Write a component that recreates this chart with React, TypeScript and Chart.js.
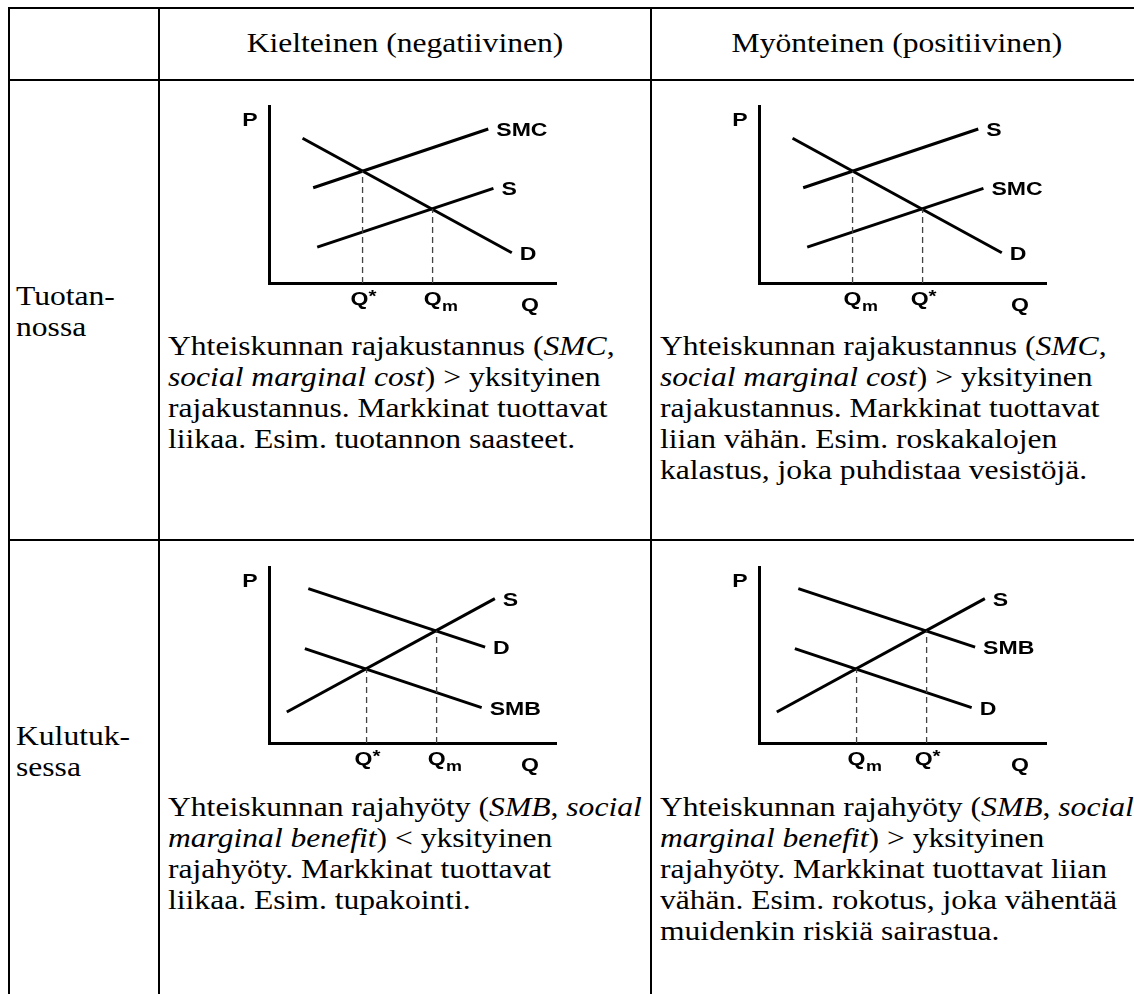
import React, { useEffect, useRef } from "react";
import { Chart, registerables } from "chart.js";

Chart.register(...registerables);

// ---------------- data ----------------
const columnHeaders = ["Kielteinen (negatiivinen)", "Myönteinen (positiivinen)"];
const rowHeaders = [["Tuotan-", "nossa"], ["Kulutuk-", "sessa"]];

// production diagrams (quantity / price on a 0..10 scale)
const prodUpperQ = [1.54, 7.64];
const prodUpperP = [5.38, 8.7];
const prodLowerQ = [1.68, 7.82];
const prodLowerP = [2.03, 5.35];
const prodDemandQ = [1.17, 8.46];
const prodDemandP = [8.18, 1.71];
const prodCrossQ = [3.26, 5.7];
const prodCrossP = [6.32, 4.18];

// consumption diagrams
const consUpperQ = [1.37, 7.53];
const consUpperP = [8.77, 5.45];
const consLowerQ = [1.25, 7.41];
const consLowerP = [5.36, 2.01];
const consSupplyQ = [0.62, 7.87];
const consSupplyP = [1.76, 8.2];
const consCrossQ = [3.4, 5.84];
const consCrossP = [4.21, 6.38];

const axisTitleQ = 9.09;
const negativeTicks = ["Q*", "Qm"];
const positiveTicks = ["Qm", "Q*"];

const chart1Labels = ["SMC", "S", "D"];
const chart2Labels = ["S", "SMC", "D"];
const chart3Labels = ["D", "SMB", "S"];
const chart4Labels = ["SMB", "D", "S"];

const texts = {
  prodNeg: [
    ["Yhteiskunnan rajakustannus (", ["SMC"], ","],
    [["social marginal cost"], ") > yksityinen"],
    ["rajakustannus. Markkinat tuottavat"],
    ["liikaa. Esim. tuotannon saasteet."],
  ],
  prodPos: [
    ["Yhteiskunnan rajakustannus (", ["SMC"], ","],
    [["social marginal cost"], ") > yksityinen"],
    ["rajakustannus. Markkinat tuottavat"],
    ["liian vähän. Esim. roskakalojen"],
    ["kalastus, joka puhdistaa vesistöjä."],
  ],
  consNeg: [
    ["Yhteiskunnan rajahyöty (", ["SMB"], ", ", ["social"]],
    [["marginal benefit"], ") < yksityinen"],
    ["rajahyöty. Markkinat tuottavat"],
    ["liikaa. Esim. tupakointi."],
  ],
  consPos: [
    ["Yhteiskunnan rajahyöty (", ["SMB"], ", ", ["social"]],
    [["marginal benefit"], ") > yksityinen"],
    ["rajahyöty. Markkinat tuottavat liian"],
    ["vähän. Esim. rokotus, joka vähentää"],
    ["muidenkin riskiä sairastua."],
  ],
};

// ---------------- styling ----------------
const SERIF = '"Liberation Serif", "Times New Roman", serif';
const TEXT_SIZE = 27;
const TEXT_SX = 1.17;
const LINE_H = 31;
const LABEL_SX = 1.28;
const LABEL_SIZE = 18;
const LABEL_FONT = (s: number) => `bold ${s}px "Liberation Sans", Arial, sans-serif`;

const annotate = {
  id: "annotate",
  afterDatasetsDraw(chart: any, _args: any, opts: any) {
    const { ctx, chartArea, scales } = chart;
    const put = (text: string, x: number, y: number, size: number, align: CanvasTextAlign) => {
      ctx.save();
      ctx.font = LABEL_FONT(size);
      ctx.fillStyle = "#000";
      ctx.textBaseline = "middle";
      ctx.translate(x, y);
      ctx.scale(LABEL_SX, 1);
      ctx.textAlign = align;
      ctx.fillText(text, 0, 0);
      ctx.restore();
    };
    const width = (text: string, size: number) => {
      ctx.save();
      ctx.font = LABEL_FONT(size);
      const w = ctx.measureText(text).width * LABEL_SX;
      ctx.restore();
      return w;
    };
    chart.data.datasets.forEach((ds: any, i: number) => {
      if (!ds.curveLabel) return;
      const meta = chart.getDatasetMeta(i);
      const pt = meta.data[meta.data.length - 1];
      put(ds.curveLabel, pt.x + 8, pt.y + 2, LABEL_SIZE, "left");
    });
    put("P", chartArea.left - 19, chartArea.top + 15, LABEL_SIZE, "center");
    const yT = chartArea.bottom + 17;
    opts.tickValues.forEach((v: number, i: number) => {
      const x = scales.x.getPixelForValue(v);
      const lab: string = opts.tickLabels[i];
      const qw = width("Q", LABEL_SIZE);
      if (lab === "Qm") {
        put("Q", x, yT, LABEL_SIZE, "center");
        put("m", x + qw / 2 + 0.5, yT + 7, 14, "left");
      } else {
        put("Q", x - 3, yT, LABEL_SIZE, "center");
        put("*", x - 3 + qw / 2, yT - 2, 16, "left");
      }
    });
    put("Q", scales.x.getPixelForValue(opts.axisAt), chartArea.bottom + 23, LABEL_SIZE, "center");
  },
};

type Series = { q: number[]; p: number[]; label: string };

function MiniChart(props: {
  left: number;
  top: number;
  areaH: number;
  series: Series[];
  crossQ: number[];
  crossP: number[];
  ticks: string[];
}) {
  const ref = useRef<HTMLCanvasElement | null>(null);
  const W = 340;
  const H = 225;
  useEffect(() => {
    if (!ref.current) return;
    const dashed = props.crossQ.map((q, i) => ({
      data: [
        { x: q, y: 0 },
        { x: q, y: props.crossP[i] },
      ],
      showLine: true,
      borderColor: "#444",
      borderWidth: 1.3,
      borderDash: [6, 4],
      pointRadius: 0,
      fill: false,
    }));
    const solid = props.series.map((s) => ({
      data: s.q.map((x, i) => ({ x, y: s.p[i] })),
      showLine: true,
      borderColor: "#000",
      borderWidth: 3,
      pointRadius: 0,
      fill: false,
      curveLabel: s.label,
    }));
    const axis = {
      type: "linear" as const,
      min: 0,
      max: 10,
      grid: { display: false, drawTicks: false },
      ticks: { display: false },
      border: { display: true, color: "#000", width: 3 },
    };
    const chart = new Chart(ref.current, {
      type: "scatter",
      data: { datasets: [...dashed, ...solid] as any },
      options: {
        animation: false,
        responsive: false,
        maintainAspectRatio: false,
        layout: { padding: { left: 39, top: 6, right: W - 326, bottom: H - 6 - props.areaH } },
        plugins: {
          legend: { display: false },
          tooltip: { enabled: false },
          annotate: { tickValues: props.crossQ, tickLabels: props.ticks, axisAt: axisTitleQ },
        } as any,
        scales: { x: axis, y: axis },
      },
      plugins: [annotate],
    });
    return () => chart.destroy();
  }, []);
  return (
    <canvas
      ref={ref}
      width={W}
      height={H}
      style={{ position: "absolute", left: props.left, top: props.top, width: W, height: H }}
    />
  );
}

function Para(props: { left: number; top: number; lines: any[]; center?: boolean; width?: number }) {
  return (
    <div
      style={{
        position: "absolute",
        left: props.left,
        top: props.top,
        width: props.width,
        fontFamily: SERIF,
        fontSize: TEXT_SIZE,
        lineHeight: LINE_H + "px",
        whiteSpace: "nowrap",
        textAlign: props.center ? "center" : "left",
        transform: `scaleX(${TEXT_SX})`,
        transformOrigin: props.center ? "50% 0" : "0 0",
        color: "#000",
      }}
    >
      {props.lines.map((ln: any, i: number) => (
        <div key={i} style={{ height: LINE_H }}>
          {(Array.isArray(ln) ? ln : [ln]).map((part: any, j: number) =>
            Array.isArray(part) ? <i key={j}>{part[0]}</i> : <span key={j}>{part}</span>
          )}
        </div>
      ))}
    </div>
  );
}

const hLines = [7, 79, 539];
const vLines = [8, 158, 650];

export default function App() {
  const prodSeries = (labels: string[]): Series[] => [
    { q: prodUpperQ, p: prodUpperP, label: labels[0] },
    { q: prodLowerQ, p: prodLowerP, label: labels[1] },
    { q: prodDemandQ, p: prodDemandP, label: labels[2] },
  ];
  const consSeries = (labels: string[]): Series[] => [
    { q: consUpperQ, p: consUpperP, label: labels[0] },
    { q: consLowerQ, p: consLowerP, label: labels[1] },
    { q: consSupplyQ, p: consSupplyP, label: labels[2] },
  ];
  return (
    <>
      <style>{`html,body{margin:0;padding:0;overflow:hidden;background:#fff}`}</style>
      <div style={{ position: "relative", width: 1134, height: 994, overflow: "hidden", background: "#fff" }}>
        {hLines.map((y, i) => (
          <div key={"h" + i} style={{ position: "absolute", left: 8, top: y, width: 1126, height: 2, background: "#000" }} />
        ))}
        {vLines.map((x, i) => (
          <div key={"v" + i} style={{ position: "absolute", left: x, top: 7, width: 2, height: 987, background: "#000" }} />
        ))}

        <Para left={160} top={28} width={490} center lines={[columnHeaders[0]]} />
        <Para left={652} top={28} width={490} center lines={[columnHeaders[1]]} />

        <Para left={16} top={281} lines={rowHeaders[0]} />
        <Para left={16} top={721} lines={rowHeaders[1]} />

        <MiniChart left={230} top={100} areaH={177} series={prodSeries(chart1Labels)} crossQ={prodCrossQ} crossP={prodCrossP} ticks={negativeTicks} />
        <MiniChart left={720} top={100} areaH={177} series={prodSeries(chart2Labels)} crossQ={prodCrossQ} crossP={prodCrossP} ticks={positiveTicks} />
        <MiniChart left={230} top={561} areaH={176} series={consSeries(chart3Labels)} crossQ={consCrossQ} crossP={consCrossP} ticks={negativeTicks} />
        <MiniChart left={720} top={561} areaH={176} series={consSeries(chart4Labels)} crossQ={consCrossQ} crossP={consCrossP} ticks={positiveTicks} />

        <Para left={168} top={331} lines={texts.prodNeg} />
        <Para left={660} top={331} lines={texts.prodPos} />
        <Para left={168} top={792} lines={texts.consNeg} />
        <Para left={660} top={792} lines={texts.consPos} />
      </div>
    </>
  );
}
